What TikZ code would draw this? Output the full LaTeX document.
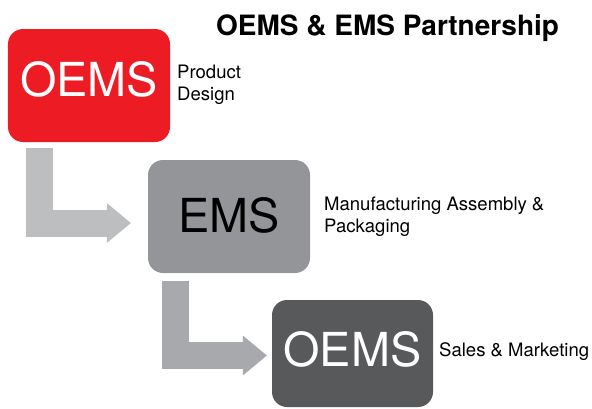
\documentclass[tikz,border=0pt]{standalone}
\usepackage{fontspec}
\setmainfont{TeX Gyre Heros}
\usetikzlibrary{arrows.meta}

\definecolor{oemsred}{HTML}{ED1C24}
\definecolor{emsgray}{HTML}{939598}
\definecolor{oemsdark}{HTML}{58595B}
\definecolor{flowlight}{HTML}{BCBEC0}
\definecolor{flowmid}{HTML}{A7A9AC}

\tikzset{
  box/.style={rounded corners=15bp, minimum width=162bp, minimum height=113bp,
    inner sep=0pt, font=\fontsize{47}{47}\selectfont},
  note/.style={anchor=west, inner sep=0pt, align=left,
    font=\fontsize{18.6}{22}\selectfont},
  flow/.style={line width=27bp, line join=miter,
    -{Triangle[length=24bp,width=40bp,line width=0pt]}}
}

\begin{document}
\begin{tikzpicture}[x=1bp,y=-1bp]
    \useasboundingbox (0,0) rectangle (592,408);

    % Title
    \node[anchor=base west, inner sep=0pt, font=\fontsize{28.1}{30}\selectfont\bfseries]
        (title) at (216,35) {OEMS \& EMS Partnership};

    % The three stages
    \node[box, fill=oemsred, text=white, text depth=13bp] (design) at (89,85.5) {OEMS};
    \node[box, fill=emsgray, text depth=3bp] (ems) at (229,216.5) {EMS};
    \node[box, fill=oemsdark, text=white, minimum width=161bp, minimum height=107bp,
        text depth=9bp] (sales) at (352.5,353.5) {OEMS};

    % What each stage does
    \node[note] (designtxt) at (177,84.3) {Product\\Design};
    \node[note] (emstxt) at (324,217) {Manufacturing Assembly \&\\Packaging};
    \node[note, anchor=base west] (salestxt) at (439,356) {Sales \& Marketing};

    % Hand-over arrows
    \coordinate (start1) at (39.5,148);
    \coordinate (start2) at (175.5,281);
    \draw[flow, draw=flowlight, shorten >=17bp] (start1) |- ([yshift=-6.5bp]ems.west);
    \draw[flow, draw=flowmid, shorten >=5bp] (start2) |- ([yshift=-2bp]sales.west);

\end{tikzpicture}
\end{document}
